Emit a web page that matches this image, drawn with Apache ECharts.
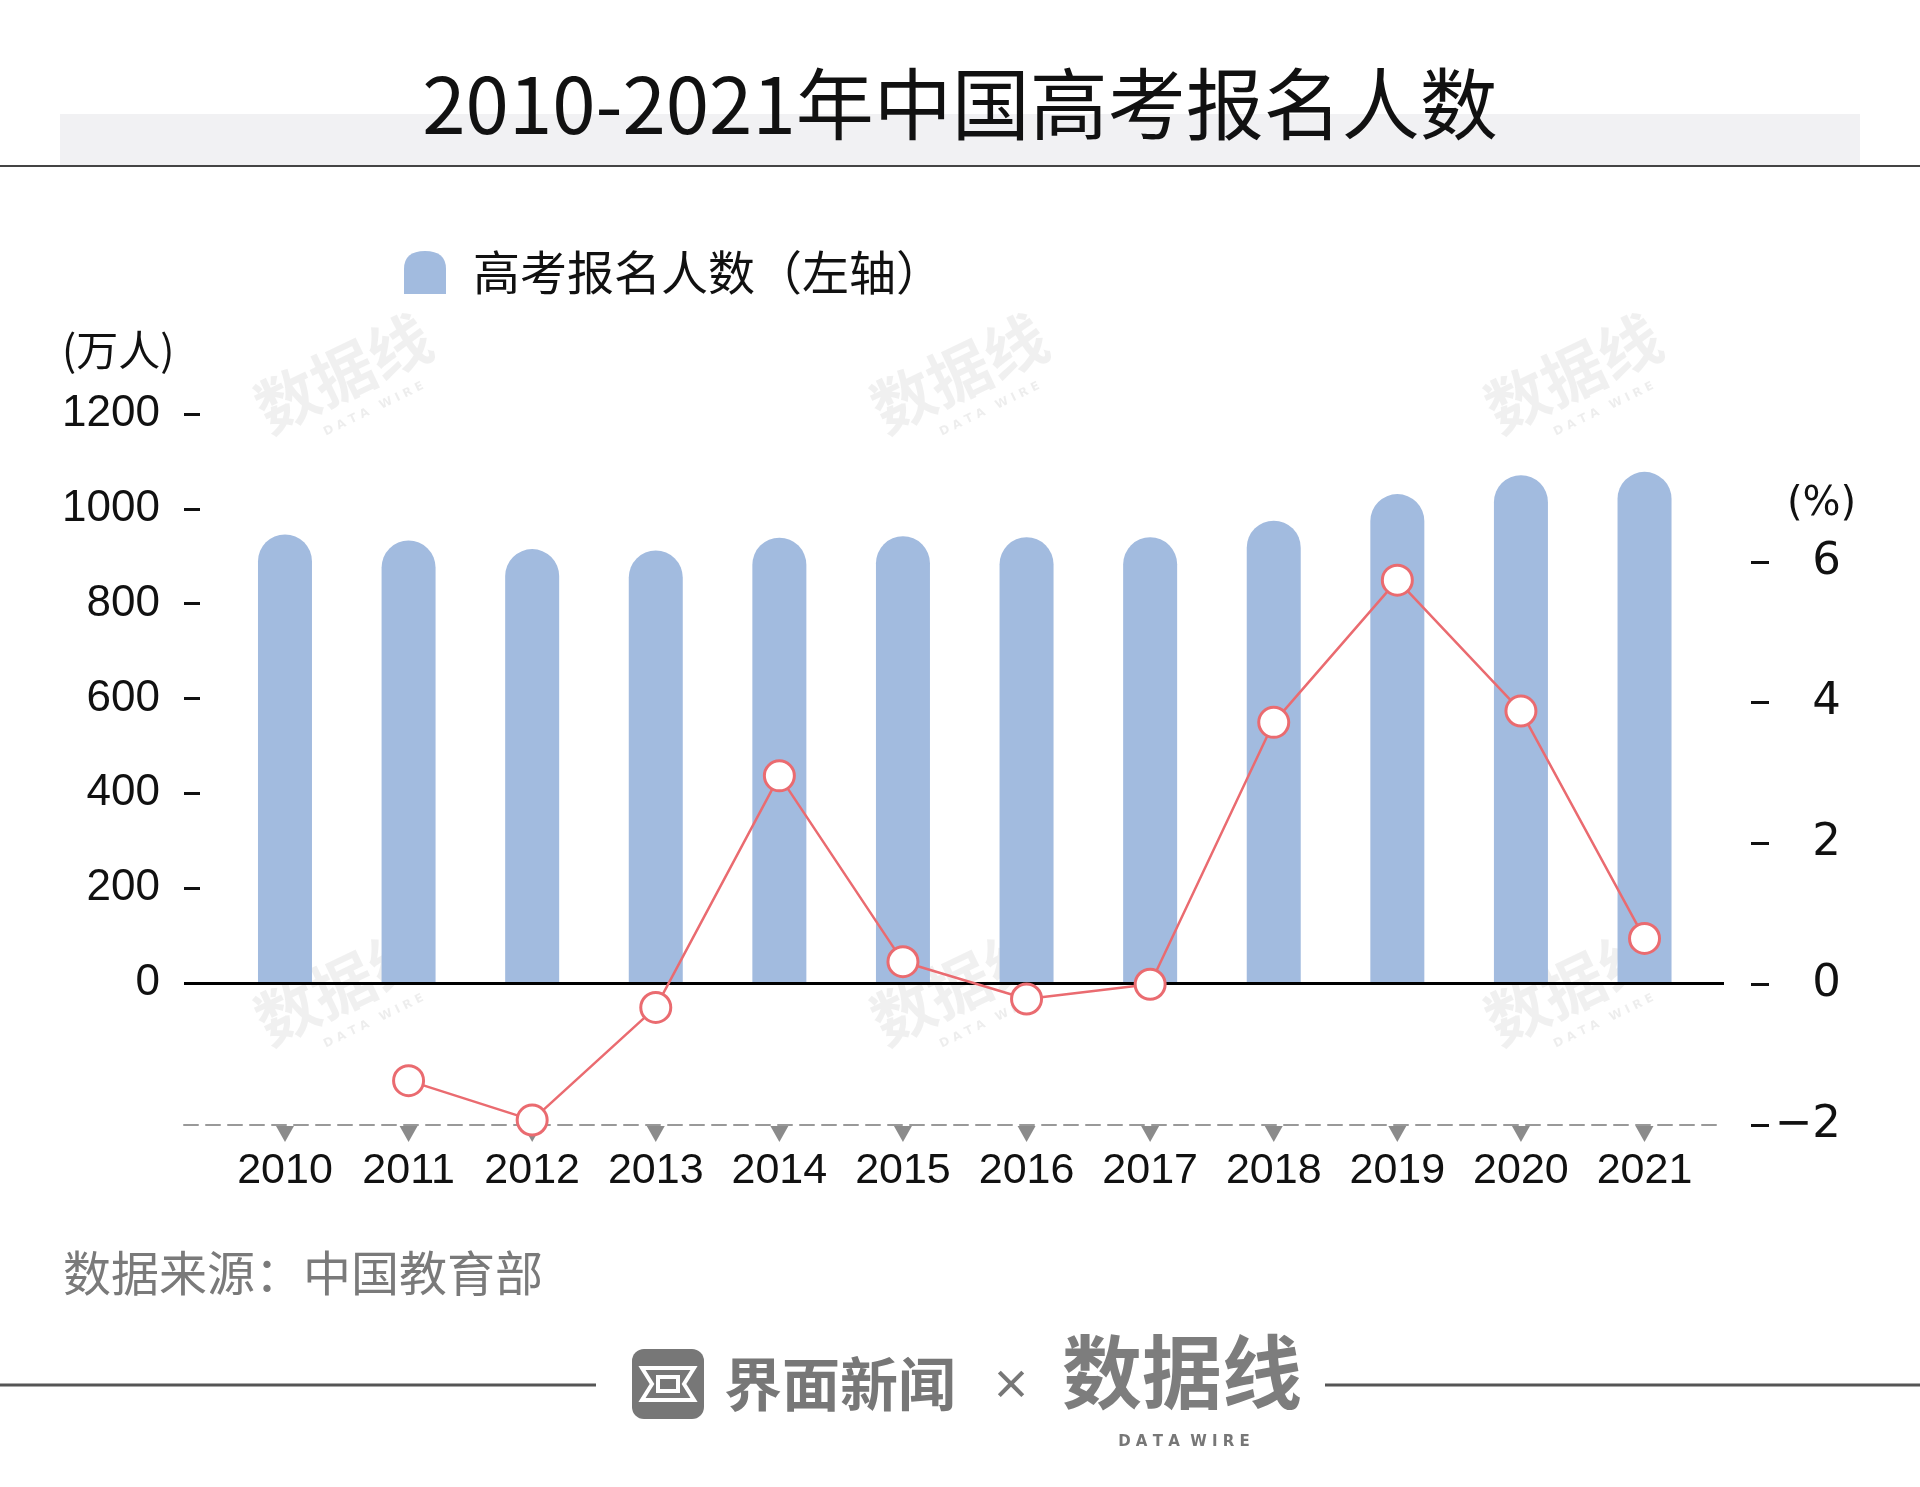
<!DOCTYPE html>
<html>
<head>
<meta charset="utf-8">
<title>2010-2021年中国高考报名人数</title>
<script src="https://cdn.jsdelivr.net/npm/echarts@6/dist/echarts.min.js"></script>
<style>
  html, body { margin: 0; padding: 0; background: #fff; }
  #chart { width: 1920px; height: 1487px; }
</style>
</head>
<body>
<div id="chart"></div>
<script>
// data
var years = [2010, 2011, 2012, 2013, 2014, 2015, 2016, 2017, 2018, 2019, 2020, 2021];
var applicants = [946, 933, 915, 912, 939, 942, 940, 940, 975, 1031, 1071, 1078]; // 万人
var growthYears = [2011, 2012, 2013, 2014, 2015, 2016, 2017, 2018, 2019, 2020, 2021];
var growth = [-1.37, -1.93, -0.33, 2.96, 0.32, -0.21, 0.0, 3.72, 5.74, 3.88, 0.65]; // %
var leftTicks = [0, 200, 400, 600, 800, 1000, 1200];
var rightTicks = [-2, 0, 2, 4, 6];

var CJK = '"Noto Sans CJK SC", "Noto Sans", sans-serif';
var NUM = '"Liberation Sans Narrow", "Liberation Sans", sans-serif';

var chart = echarts.init(document.getElementById('chart'));

function pairs(xs, ys) {
    return xs.map(function (x, i) { return [x, ys[i]]; });
}

// little watermarks, rotated
var marks = [[343, 373], [959, 373], [1573, 373], [343, 985], [959, 985], [1573, 985]];
var watermark = [];
marks.forEach(function (p) {
    watermark.push({
        type: 'group', x: p[0], y: p[1], rotation: Math.PI / 7, z: 50, silent: true,
        children: [
            { type: 'text', style: { text: '数据线', x: 0, y: 0, align: 'center', verticalAlign: 'middle',
                font: 'bold 62px ' + CJK, fill: 'rgba(0,0,0,0.06)' } },
            { type: 'text', style: { text: 'D A T A   W I R E', x: 12, y: 46, align: 'center', verticalAlign: 'middle',
                font: 'bold 12px "DejaVu Sans", sans-serif', fill: 'rgba(0,0,0,0.07)' } }
        ]
    });
});

var option = {
    backgroundColor: '#fff',
    animation: false,
    title: [
        { text: '2010-2021年中国高考报名人数', left: 'center', top: 60,
          textStyle: { fontFamily: CJK, fontSize: 78, fontWeight: 'normal', color: '#111' } },
        { text: '(万人)', left: 57, top: 324,
          textStyle: { fontFamily: CJK, fontSize: 42, fontWeight: 'normal', color: '#111' } },
        { text: '(%)', left: 1782, top: 480,
          textStyle: { fontFamily: '"DejaVu Sans", sans-serif', fontSize: 40, fontWeight: 'normal', color: '#111' } },
        { text: '数据来源：中国教育部', left: 58, top: 1244,
          textStyle: { fontFamily: CJK, fontSize: 48, fontWeight: 'normal', color: '#7a7a7a' } }
    ],
    legend: {
        left: 399, top: 244,
        itemWidth: 42, itemHeight: 43,
        data: [{
            name: '高考报名人数（左轴）',
            icon: 'path://M0,18 Q0,0 21,0 Q42,0 42,18 L42,43 L0,43 Z'
        }],
        textStyle: { fontFamily: CJK, fontSize: 47, color: '#111', padding: [0, 0, 0, 22] }
    },
    grid: { left: 184, right: 196, top: 414, bottom: 362, containLabel: false },
    xAxis: {
        type: 'value',
        min: 2009.183,
        max: 2021.643,
        splitLine: { show: false },
        axisLine: { show: true, onZero: false, lineStyle: { color: '#999', width: 2, type: [14, 8] } },
        axisTick: { show: false },
        axisLabel: {
            customValues: years,
            formatter: function (v) { return String(v); },
            margin: 25,
            fontFamily: NUM, fontSize: 43, color: '#111'
        }
    },
    yAxis: [
        {
            type: 'value', position: 'left',
            min: -300, max: 1200,
            splitLine: { show: false },
            axisLine: { show: false },
            axisTick: { show: true, inside: true, length: 16, customValues: leftTicks,
                lineStyle: { color: '#111', width: 3 } },
            axisLabel: { customValues: leftTicks, margin: 24,
                formatter: function (v) { return String(v); },
                fontFamily: NUM, fontSize: 44, color: '#111' }
        },
        {
            type: 'value', position: 'right', offset: 27,
            min: -2, max: 8.1,
            splitLine: { show: false },
            axisLine: { show: false },
            axisTick: { show: true, inside: false, length: 18, customValues: rightTicks,
                lineStyle: { color: '#111', width: 3 } },
            axisLabel: { customValues: rightTicks, margin: 90, align: 'right',
                formatter: function (v) { return String(v).replace('-', '\u2212'); },
                fontFamily: '"DejaVu Sans", sans-serif', fontSize: 45, color: '#111' }
        }
    ],
    series: [
        {
            name: '高考报名人数（左轴）',
            type: 'bar',
            yAxisIndex: 0,
            barWidth: 54,
            data: pairs(years, applicants),
            itemStyle: { color: '#a2bbdf', borderRadius: [27, 27, 0, 0] },
            markLine: {
                silent: true, symbol: 'none',
                label: { show: false },
                lineStyle: { color: '#000', width: 3, type: 'solid' },
                data: [{ yAxis: 0 }]
            },
            z: 2
        },
        {
            name: '增长率',
            type: 'line',
            yAxisIndex: 1,
            data: pairs(growthYears, growth),
            symbol: 'circle', symbolSize: 30,
            lineStyle: { color: '#ea6b70', width: 2.5 },
            itemStyle: { color: '#fff', borderColor: '#ea6b70', borderWidth: 3 },
            z: 5
        },
        {
            name: 'ticks',
            type: 'scatter',
            yAxisIndex: 1,
            clip: false,
            silent: true,
            data: years.map(function (y) { return [y, -2]; }),
            symbol: 'triangle', symbolRotate: 180,
            symbolSize: [18, 16], symbolOffset: [0, 9],
            itemStyle: { color: '#6e6e6e' },
            z: 3
        }
    ],
    graphic: [
        { type: 'rect', shape: { x: 60, y: 114, width: 1800, height: 51 }, style: { fill: '#f1f1f3' }, z: -10, silent: true },
        { type: 'line', shape: { x1: 0, y1: 166, x2: 1920, y2: 166 }, style: { stroke: '#444', lineWidth: 2 }, silent: true },
        // footer
        { type: 'line', shape: { x1: 0, y1: 1385, x2: 596, y2: 1385 }, style: { stroke: '#555', lineWidth: 3 }, silent: true },
        { type: 'line', shape: { x1: 1325, y1: 1385, x2: 1920, y2: 1385 }, style: { stroke: '#555', lineWidth: 3 }, silent: true },
        { type: 'rect', shape: { x: 632, y: 1349, width: 72, height: 70, r: 12 }, style: { fill: '#777' }, silent: true },
        { type: 'polygon', shape: { points: [[642, 1368], [694, 1368], [684, 1384], [694, 1400], [642, 1400], [652, 1384]] },
          style: { fill: 'none', stroke: '#fff', lineWidth: 4 }, silent: true },
        { type: 'rect', shape: { x: 658, y: 1377, width: 20, height: 14 }, style: { fill: 'none', stroke: '#fff', lineWidth: 4 }, silent: true },
        { type: 'text', style: { text: '界面新闻', x: 724, y: 1384, verticalAlign: 'middle',
            font: 'bold 58px ' + CJK, fill: '#777' }, silent: true },
        { type: 'text', style: { text: '×', x: 1011, y: 1384, align: 'center', verticalAlign: 'middle',
            font: 'bold 40px ' + CJK, fill: '#777' }, silent: true },
        { type: 'text', style: { text: '数据线', x: 1182, y: 1372, align: 'center', verticalAlign: 'middle',
            font: 'bold 80px ' + CJK, fill: '#7d7d7d' }, silent: true },
        { type: 'text', style: { text: 'D A T A  W I R E', x: 1184, y: 1442, align: 'center', verticalAlign: 'middle',
            font: 'bold 15px "DejaVu Sans", sans-serif', fill: '#777' }, silent: true }
    ].concat(watermark)
};

chart.setOption(option);
</script>
</body>
</html>
